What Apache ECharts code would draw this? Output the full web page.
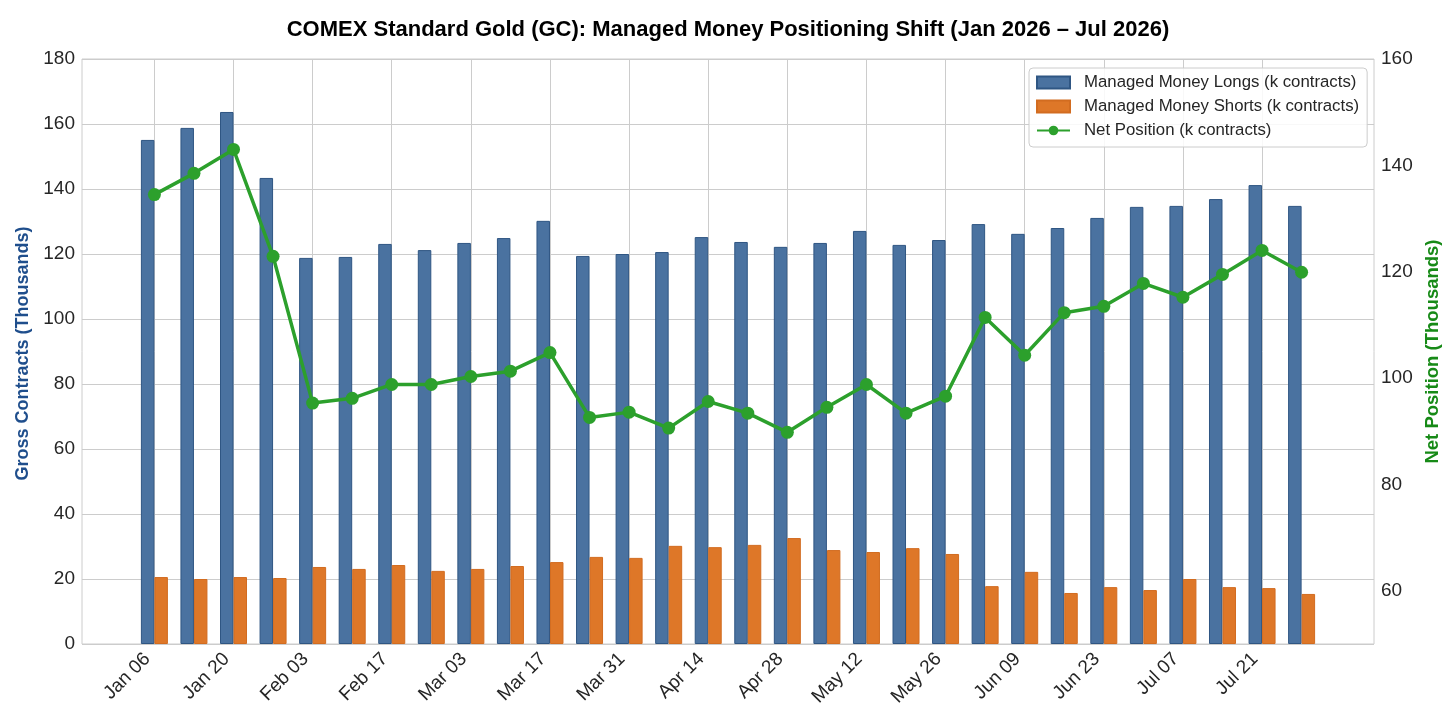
<!DOCTYPE html>
<html>
<head>
<meta charset="utf-8">
<script src="https://cdn.jsdelivr.net/npm/echarts@6/dist/echarts.min.js"></script>
<style>
  html, body { margin: 0; padding: 0; background: #fff; }
  #chart { width: 1456px; height: 728px; }
</style>
</head>
<body>
<div id="chart"></div>
<script>
// weekly report dates (Tuesdays)
const weeks = ['Jan 06', 'Jan 13', 'Jan 20', 'Jan 27', 'Feb 03', 'Feb 10', 'Feb 17', 'Feb 24',
  'Mar 03', 'Mar 10', 'Mar 17', 'Mar 24', 'Mar 31', 'Apr 07', 'Apr 14', 'Apr 21', 'Apr 28',
  'May 05', 'May 12', 'May 19', 'May 26', 'Jun 02', 'Jun 09', 'Jun 16', 'Jun 23', 'Jun 30',
  'Jul 07', 'Jul 14', 'Jul 21', 'Jul 28']
// labelled ticks, every other week
const tickWeeks = [0, 2, 4, 6, 8, 10, 12, 14, 16, 18, 20, 22, 24, 26, 28]

const longs = [155.1, 158.8, 163.7, 143.4, 118.8, 119.1, 123.1, 121.2, 123.4, 124.9,
  130.2, 119.4, 120.0, 120.6, 125.2, 123.7, 122.2, 123.4, 127.1, 122.8,
  124.3, 129.2, 126.2, 128.0, 131.1, 134.5, 134.8, 136.9, 141.2, 134.8]
const shorts = [20.6, 20.0, 20.6, 20.3, 23.7, 23.1, 24.3, 22.5, 23.1, 24.0,
  25.2, 26.8, 26.5, 30.2, 29.8, 30.5, 32.6, 28.9, 28.3, 29.5,
  27.7, 17.8, 22.2, 15.7, 17.5, 16.6, 20.0, 17.5, 17.2, 15.4]
const net = [134.5, 138.5, 143.0, 122.9, 95.3, 96.2, 98.8, 98.8, 100.3, 101.3,
  104.8, 92.6, 93.6, 90.6, 95.6, 93.4, 89.8, 94.5, 98.8, 93.4,
  96.6, 111.4, 104.3, 112.3, 113.5, 117.8, 115.2, 119.5, 124.0, 119.9]

const FONT = "'Liberation Sans', Arial, sans-serif"
const INK = '#262626'
const GRIDC = '#cccccc'

const chart = echarts.init(document.getElementById('chart'))

const pairs = arr => arr.map((v, i) => [i, v])

const option = {
  animation: false,
  textStyle: { fontFamily: FONT },
  title: {
    text: 'COMEX Standard Gold (GC): Managed Money Positioning Shift (Jan 2026 – Jul 2026)',
    left: 'center',
    top: 14,
    textStyle: { fontSize: 22, fontWeight: 'bold', color: '#000', fontFamily: FONT }
  },
  grid: {
    left: 82, right: 82, top: 59, bottom: 84,
    show: true, borderColor: GRIDC, borderWidth: 1
  },
  legend: {
    orient: 'vertical',
    left: 1029,
    top: 68,
    padding: [6, 8, 8, 7],
    itemGap: 7,
    itemWidth: 33,
    itemHeight: 12,
    backgroundColor: 'rgba(255,255,255,0.85)',
    borderColor: GRIDC,
    borderWidth: 1,
    borderRadius: 4,
    textStyle: { fontSize: 16.8, color: INK, fontFamily: FONT, lineHeight: 17, padding: [0, 0, 0, 9] },
    data: [
      { name: 'Managed Money Longs (k contracts)', icon: 'rect' },
      { name: 'Managed Money Shorts (k contracts)', icon: 'rect' },
      { name: 'Net Position (k contracts)' }
    ]
  },
  xAxis: {
    type: 'value',
    min: -1.83,
    max: 30.83,
    splitLine: { show: false },
    axisLine: { show: false },
    axisTick: { show: false },
    axisLabel: {
      customValues: tickWeeks,
      formatter: v => weeks[v] || '',
      rotate: 45,
      margin: 5,
      padding: [0, 10, 0, 0],
      fontSize: 19,
      color: INK,
      fontFamily: FONT
    }
  },
  yAxis: [
    {
      type: 'value',
      min: 0, max: 180, interval: 20,
      name: 'Gross Contracts (Thousands)',
      nameLocation: 'middle',
      nameGap: 45,
      nameTextStyle: { fontSize: 18, fontWeight: 'bold', color: '#1f4e8c', fontFamily: FONT, padding: [0, 4, 0, 0] },
      axisLine: { show: false },
      axisTick: { show: false },
      axisLabel: { fontSize: 19, color: INK, margin: 7, fontFamily: FONT },
      splitLine: { lineStyle: { color: GRIDC, width: 1 } }
    },
    {
      type: 'value',
      min: 50, max: 160, interval: 10,
      name: 'Net Position (Thousands)',
      nameLocation: 'middle',
      nameGap: 42,
      nameTextStyle: { fontSize: 18.5, fontWeight: 'bold', color: '#178a17', fontFamily: FONT },
      axisLine: { show: false },
      axisTick: { show: false },
      axisLabel: {
        fontSize: 19, color: INK, margin: 7, fontFamily: FONT,
        formatter: v => (v % 20 === 0 ? String(v) : '')
      },
      splitLine: { show: false }
    }
  ],
  series: [
    {
      name: 'Managed Money Longs (k contracts)',
      type: 'bar',
      data: pairs(longs),
      barWidth: 13.5,
      barGap: '0%',
      itemStyle: { color: '#4a72a0', borderColor: '#2f5683', borderWidth: 1 },
      emphasis: { disabled: true }
    },
    {
      name: 'Managed Money Shorts (k contracts)',
      type: 'bar',
      data: pairs(shorts),
      barWidth: 13.5,
      barGap: '0%',
      itemStyle: { color: '#de7728', borderColor: '#d26c20', borderWidth: 1 },
      emphasis: { disabled: true }
    },
    {
      name: 'Net Position (k contracts)',
      type: 'line',
      yAxisIndex: 1,
      data: pairs(net),
      symbol: 'circle',
      symbolSize: 13,
      z: 5,
      lineStyle: { color: '#2ca02c', width: 3.5 },
      itemStyle: { color: '#2ca02c' },
      emphasis: { disabled: true },
      // vertical grid lines at the labelled weeks, kept behind the bars
      markLine: {
        z: 0,
        silent: true,
        symbol: 'none',
        label: { show: false },
        lineStyle: { color: GRIDC, width: 1, type: 'solid' },
        emphasis: { disabled: true },
        data: tickWeeks.map(i => ({ xAxis: i }))
      }
    }
  ]
}

chart.setOption(option)
</script>
</body>
</html>
